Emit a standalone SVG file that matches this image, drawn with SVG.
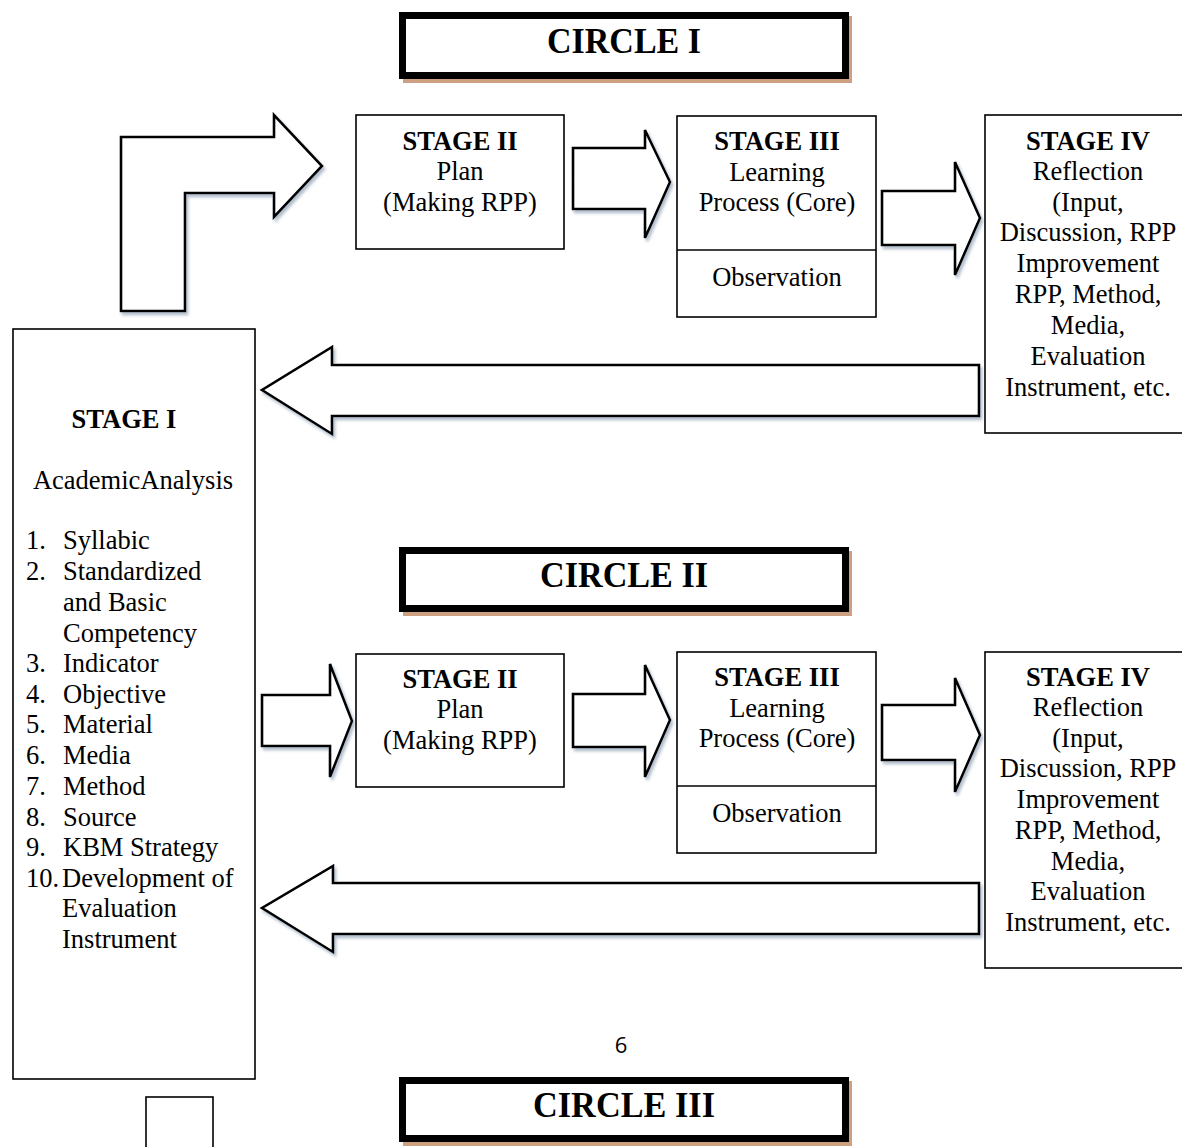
<svg xmlns="http://www.w3.org/2000/svg" width="1182" height="1147" viewBox="0 0 1182 1147">
<defs>
<style>
.t{font-family:"Liberation Serif","Times New Roman",serif;font-size:26.5px;fill:#000;text-anchor:middle}
.b{font-weight:bold}
.l{text-anchor:start}
.box{fill:#fff;stroke:#000;stroke-width:1.6}
.arr{fill:#fff;stroke:#000;stroke-width:2.6;stroke-linejoin:miter;filter:url(#sh)}
.cb{fill:#fff;stroke:#000;stroke-width:7}
.cs{fill:#CDA082}
.ct{font-family:"Liberation Serif","Times New Roman",serif;font-size:36px;font-weight:bold;text-anchor:middle}
</style>
<filter id="sh" x="-10%" y="-10%" width="130%" height="140%">
<feDropShadow dx="2" dy="3" stdDeviation="1.5" flood-color="#7f93a8" flood-opacity="0.6"/>
</filter>
</defs>
<rect width="1182" height="1147" fill="#fff"/>

<g id="circle1">
<rect class="cs" x="403" y="16" width="449" height="67"/>
<rect class="cb" x="402.5" y="15.5" width="443" height="60"/>
<text class="ct" x="624" y="53" textLength="154" lengthAdjust="spacingAndGlyphs">CIRCLE I</text>
</g>

<g id="connectors">
<polygon class="arr" points="121,311 121,137 274,137 274,115 322,166 274,217 274,193 185,193 185,311"/>
<polygon class="arr" points="573,148 645,148 645,130 670,182 645,238 645,209 573,209"/>
<polygon class="arr" points="882,191 955,191 955,162 980,218 955,275 955,245 882,245"/>
<polygon class="arr" points="979,365 332,365 332,347 262,390 332,434 332,416 979,416"/>
<polygon class="arr" points="262,695 330,695 330,664 352,721 330,777 330,746 262,746"/>
<polygon class="arr" points="573,694 645,694 645,665 670,720 645,777 645,747 573,747"/>
<polygon class="arr" points="882,705 955,705 955,678 980,735 955,792 955,760 882,760"/>
<polygon class="arr" points="979,883 333,883 333,866 262,908 333,952 333,934 979,934"/>
</g>

<g id="stage2a">
<rect class="box" x="356" y="115" width="208" height="134"/>
<text class="t b" x="460" y="150">STAGE II</text>
<text class="t" x="460" y="180">Plan</text>
<text class="t" x="460" y="211">(Making RPP)</text>
</g>

<g id="stage3a">
<rect class="box" x="677" y="116" width="199" height="201"/>
<line x1="677" y1="250" x2="876" y2="250" stroke="#000" stroke-width="1.6"/>
<text class="t b" x="777" y="150">STAGE III</text>
<text class="t" x="777" y="181">Learning</text>
<text class="t" x="777" y="211">Process (Core)</text>
<text class="t" x="777" y="286">Observation</text>
</g>

<g id="stage4a">
<rect class="box" x="985" y="115" width="210" height="318"/>
<text class="t b" x="1088" y="150">STAGE IV</text>
<text class="t" x="1088" y="180">Reflection</text>
<text class="t" x="1088" y="211">(Input,</text>
<text class="t" x="1088" y="241">Discussion, RPP</text>
<text class="t" x="1088" y="272">Improvement</text>
<text class="t" x="1088" y="303">RPP, Method,</text>
<text class="t" x="1088" y="334">Media,</text>
<text class="t" x="1088" y="365">Evaluation</text>
<text class="t" x="1088" y="396">Instrument, etc.</text>
</g>

<g id="stage1">
<rect class="box" x="13" y="329" width="242" height="750"/>
<text class="t b" x="124" y="428">STAGE I</text>
<text class="t" x="133" y="489">AcademicAnalysis</text>
<text class="t l" x="26" y="549">1.</text><text class="t l" x="63" y="549">Syllabic</text>
<text class="t l" x="26" y="580">2.</text><text class="t l" x="63" y="580">Standardized</text>
<text class="t l" x="63" y="611">and Basic</text>
<text class="t l" x="63" y="642">Competency</text>
<text class="t l" x="26" y="672">3.</text><text class="t l" x="63" y="672">Indicator</text>
<text class="t l" x="26" y="703">4.</text><text class="t l" x="63" y="703">Objective</text>
<text class="t l" x="26" y="733">5.</text><text class="t l" x="63" y="733">Material</text>
<text class="t l" x="26" y="764">6.</text><text class="t l" x="63" y="764">Media</text>
<text class="t l" x="26" y="795">7.</text><text class="t l" x="63" y="795">Method</text>
<text class="t l" x="26" y="826">8.</text><text class="t l" x="63" y="826">Source</text>
<text class="t l" x="26" y="856">9.</text><text class="t l" x="63" y="856">KBM Strategy</text>
<text class="t l" x="26" y="887">10.</text><text class="t l" x="62" y="887">Development of</text>
<text class="t l" x="62" y="917">Evaluation</text>
<text class="t l" x="62" y="948">Instrument</text>
</g>

<g id="circle2">
<rect class="cs" x="403" y="551" width="449" height="65"/>
<rect class="cb" x="402.5" y="550.5" width="443" height="58"/>
<text class="ct" x="624" y="587" textLength="168" lengthAdjust="spacingAndGlyphs">CIRCLE II</text>
</g>

<g id="stage2b">
<rect class="box" x="356" y="654" width="208" height="133"/>
<text class="t b" x="460" y="688">STAGE II</text>
<text class="t" x="460" y="718">Plan</text>
<text class="t" x="460" y="749">(Making RPP)</text>
</g>

<g id="stage3b">
<rect class="box" x="677" y="652" width="199" height="201"/>
<line x1="677" y1="786" x2="876" y2="786" stroke="#000" stroke-width="1.6"/>
<text class="t b" x="777" y="686">STAGE III</text>
<text class="t" x="777" y="717">Learning</text>
<text class="t" x="777" y="747">Process (Core)</text>
<text class="t" x="777" y="822">Observation</text>
</g>

<g id="stage4b">
<rect class="box" x="985" y="652" width="210" height="316"/>
<text class="t b" x="1088" y="686">STAGE IV</text>
<text class="t" x="1088" y="716">Reflection</text>
<text class="t" x="1088" y="747">(Input,</text>
<text class="t" x="1088" y="777">Discussion, RPP</text>
<text class="t" x="1088" y="808">Improvement</text>
<text class="t" x="1088" y="839">RPP, Method,</text>
<text class="t" x="1088" y="870">Media,</text>
<text class="t" x="1088" y="900">Evaluation</text>
<text class="t" x="1088" y="931">Instrument, etc.</text>
</g>

<text x="621" y="1053" style="font-family:'Open Sans','Liberation Sans',sans-serif;font-size:22px;text-anchor:middle">6</text>

<g id="circle3">
<rect class="cs" x="403" y="1081" width="449" height="65"/>
<rect class="cb" x="402.5" y="1080.5" width="443" height="58"/>
<text class="ct" x="624" y="1117" textLength="182" lengthAdjust="spacingAndGlyphs">CIRCLE III</text>
</g>

<g id="smallbox">
<rect class="box" x="146" y="1097" width="67" height="60" stroke-width="2"/>
</g>
</svg>
